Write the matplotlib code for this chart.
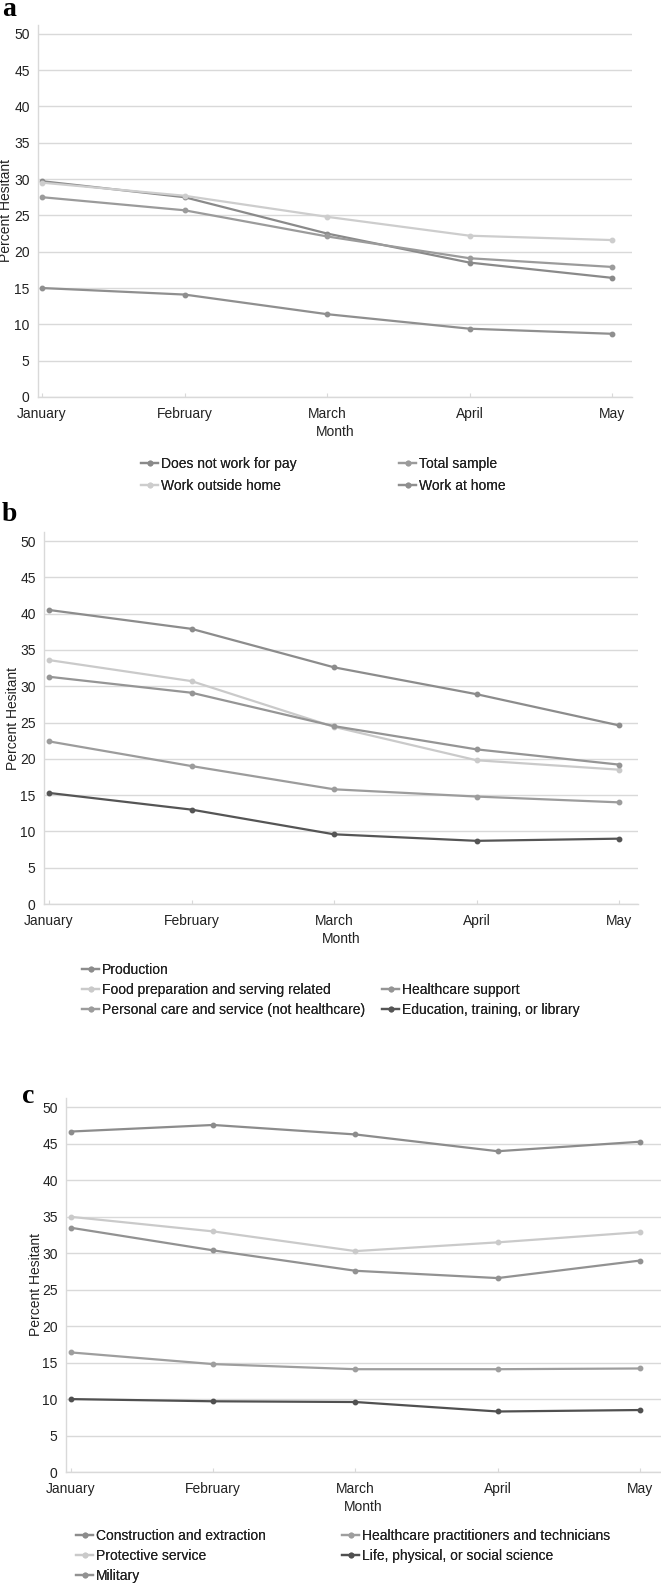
import numpy as np
import matplotlib
matplotlib.use("Agg")
import matplotlib.pyplot as plt

plt.rcParams["font.family"] = ["Liberation Sans", "DejaVu Sans"]

months = ["January", "February", "March", "April", "May"]

# panel a: work status
a_labels = ["Does not work for pay", "Total sample", "Work outside home", "Work at home"]
a_not_work = [29.7, 27.5, 22.5, 18.5, 16.4]
a_total = [27.5, 25.7, 22.1, 19.1, 17.9]
a_outside = [29.5, 27.7, 24.8, 22.2, 21.6]
a_home = [15.0, 14.1, 11.4, 9.4, 8.7]

# panel b: occupations
b_labels = ["Production", "Food preparation and serving related", "Healthcare support",
            "Personal care and service (not healthcare)", "Education, training, or library"]
b_production = [40.5, 37.9, 32.6, 28.9, 24.6]
b_food = [33.6, 30.7, 24.4, 19.8, 18.5]
b_hc_support = [31.3, 29.1, 24.5, 21.3, 19.2]
b_personal = [22.4, 19.0, 15.8, 14.8, 14.0]
b_education = [15.3, 13.0, 9.6, 8.7, 9.0]

# panel c: occupations
c_labels = ["Construction and extraction", "Healthcare practitioners and technicians",
            "Protective service", "Life, physical, or social science", "Military"]
c_construction = [46.7, 47.6, 46.3, 44.0, 45.3]
c_hc_pract = [16.4, 14.8, 14.1, 14.1, 14.2]
c_protective = [35.0, 33.0, 30.3, 31.5, 32.9]
c_life_sci = [10.0, 9.7, 9.6, 8.3, 8.5]
c_military = [33.5, 30.4, 27.6, 26.6, 29.0]

W, H = 661, 1583
fig = plt.figure(figsize=(W / 100, H / 100), dpi=100)
GRID = "#d9d9d9"


def make_ax(left, right, top, bottom, xlim, ylim, ylab_right):
    ax = fig.add_axes([left / W, 1 - bottom / H, (right - left) / W, (bottom - top) / H])
    ax.set_xlim(*xlim)
    ax.set_ylim(*ylim)
    ax.set_yticks(range(0, 51, 5))
    ax.set_xticks(range(len(months)))
    ax.set_xticklabels(months)
    ax.grid(axis="y", color=GRID, lw=1)
    ax.set_axisbelow(True)
    for s in ["top", "right"]:
        ax.spines[s].set_visible(False)
    for s in ["left", "bottom"]:
        ax.spines[s].set_color(GRID)
        ax.spines[s].set_linewidth(1)
    ax.tick_params(axis="y", length=0, pad=6, labelsize=10, labelcolor="#222222")
    ax.tick_params(axis="x", length=3, direction="in", color=GRID, pad=7,
                   labelsize=10, labelcolor="#222222")
    ax.set_xlabel("Month", fontsize=10, color="#222222", labelpad=3)
    ax.set_ylabel("Percent Hesitant", fontsize=10, color="#222222")
    # label position: right edge of the rotated text, in pixels
    ax.yaxis.set_label_coords(-(left - ylab_right) / (right - left), 0.5)
    return ax


def draw(ax, series, labels, colors):
    handles = []
    x = np.arange(len(months))
    for vals, lab, col in zip(series, labels, colors):
        h, = ax.plot(x, vals, color=col, lw=1.6, marker="o", ms=3.2, label=lab)
        handles.append(h)
    return handles


def col_legend(handles, x_px, y_px, spacing=0.42):
    leg = fig.legend(handles=handles, loc="upper left",
                     bbox_to_anchor=(x_px / W, 1 - y_px / H), bbox_transform=fig.transFigure,
                     frameon=False, fontsize=10, borderpad=0, borderaxespad=0,
                     handlelength=1.25, handletextpad=0.2, labelspacing=spacing, labelcolor="#222222")
    fig.add_artist(leg)
    return leg


# ---- panel a
ax_a = make_ax(38, 632, 25, 397, (-0.028, 4.14), (0, 51.2), 13)
ha = draw(ax_a, [a_not_work, a_total, a_outside, a_home], a_labels,
          ["#8a8a8a", "#9b9b9b", "#cdcdcd", "#8f8f8f"])
col_legend([ha[0], ha[2]], 141, 457, 0.55)
col_legend([ha[1], ha[3]], 399, 457, 0.55)
fig.text(2 / W, 1 - 16 / H, "a", family="Liberation Serif", weight="bold", fontsize=20)

# ---- panel b
ax_b = make_ax(44, 638, 532, 904, (-0.035, 4.133), (0, 51.24), 20)
hb = draw(ax_b, [b_production, b_food, b_hc_support, b_personal, b_education], b_labels,
          ["#8c8c8c", "#cacaca", "#959595", "#9c9c9c", "#555555"])
col_legend([hb[0], hb[1], hb[3]], 82, 963)
col_legend([hb[2], hb[4]], 382, 983)
fig.text(2 / W, 1 - 521 / H, "b", family="Liberation Serif", weight="bold", fontsize=20)

# ---- panel c
ax_c = make_ax(66, 661, 1098, 1472, (-0.035, 4.148), (0, 51.3), 43)
hc = draw(ax_c, [c_construction, c_hc_pract, c_protective, c_life_sci, c_military], c_labels,
          ["#8c8c8c", "#9e9e9e", "#cacaca", "#505050", "#929292"])
col_legend([hc[0], hc[2], hc[4]], 76, 1529)
col_legend([hc[1], hc[3]], 342, 1529)
fig.text(22 / W, 1 - 1103 / H, "c", family="Liberation Serif", weight="bold", fontsize=20)

fig.savefig("out.png", dpi=100)
